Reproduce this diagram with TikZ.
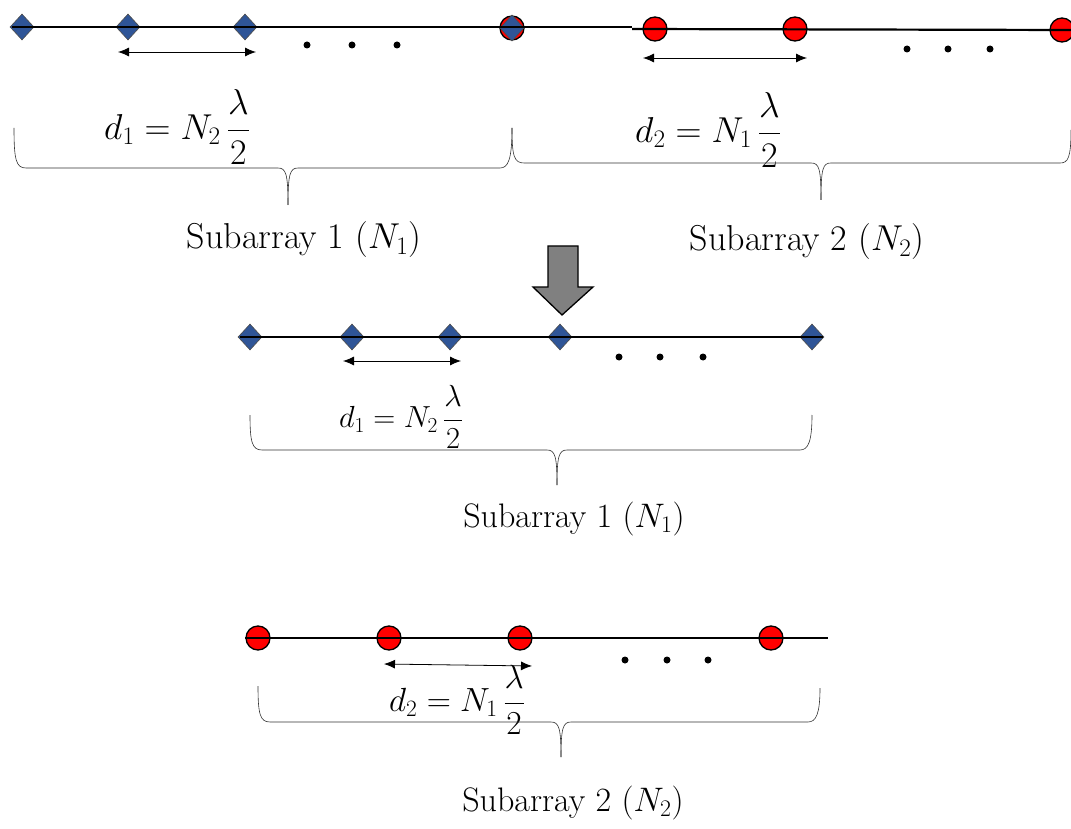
\RequirePackage{fix-cm}
\documentclass[tikz,border=0pt]{standalone}
\usetikzlibrary{arrows.meta,shapes.geometric}
\definecolor{dblue}{RGB}{47,85,151}
\definecolor{bgray}{RGB}{128,128,128}
\begin{document}
\begin{tikzpicture}[x=1pt,y=-1pt,
  elemd/.style={diamond,draw=black!70,line width=0.6pt,fill=dblue,minimum width=24pt,minimum height=26pt,inner sep=0pt},
  elemc/.style={circle,draw=black,line width=1.3pt,fill=red,minimum size=24pt,inner sep=0pt},
  arr/.style={line width=0.8pt,{Latex[length=11pt,width=9pt]}-{Latex[length=11pt,width=9pt]}},
  axis/.style={line width=2.2pt},
  brace/.style={line width=0.6pt,black!80},
  dotc/.style={circle,fill=black,minimum size=7pt,inner sep=0pt},
  lbl/.style={font=\fontsize{36}{40}\selectfont},
  lblm/.style={font=\fontsize{34}{38}\selectfont},
  frm/.style={font=\fontsize{36}{40}\selectfont},
  frmb/.style={font=\fontsize{33.5}{37}\selectfont},
  frmm/.style={font=\fontsize{30.5}{34}\selectfont}]
\useasboundingbox (0,0) rectangle (1071,829);
% ---------- top row ----------
\node[elemc] (tc0) at (512,28) {};
\node[elemd] (t1) at (22,27) {};
\node[elemd] (t2) at (128,27) {};
\node[elemd] (t3) at (245,27) {};
\node[elemd] (t4) at (512,28) {};
\node[elemc] (tc1) at (655,29) {};
\node[elemc] (tc2) at (795,29) {};
\node[elemc] (tc3) at (1062,30) {};
\coordinate (tl0) at (12,27);
\coordinate (tl1) at (632,27);
\coordinate (tl2) at (632,29);
\coordinate (tl3) at (1071,30);
\draw[axis] (tl0) -- (tl1);
\draw[axis] (tl2) -- (tl3);
\coordinate (ta1) at (118,52); \coordinate (ta2) at (256,52);
\draw[arr] (ta1) -- (ta2);
\coordinate (ta3) at (643,58); \coordinate (ta4) at (807,58);
\draw[arr] (ta3) -- (ta4);
\node[dotc] (td1) at (307,45) {}; \node[dotc] (td2) at (352,45) {}; \node[dotc] (td3) at (397,45) {};
\node[dotc] (td4) at (907,49) {}; \node[dotc] (td5) at (948,49) {}; \node[dotc] (td6) at (990,49) {};
\node[frm] (f1) at (177,127) {$\displaystyle d_1 = N_2\,\frac{\lambda}{2}$};
\node[frm] (f2) at (708,130) {$\displaystyle d_2 = N_1\,\frac{\lambda}{2}$};
\draw[brace] (14,128) .. controls (14,160) and (16,168) .. (26,168) -- (278,168)
  .. controls (286,168) and (288,174) .. (288,205);
\draw[brace] (288,205) .. controls (288,174) and (290,168) .. (298,168) -- (500,168)
  .. controls (508,168) and (512,160) .. (512,128);
\draw[brace] (512,128) .. controls (512,156) and (514,163) .. (524,163) -- (811,163)
  .. controls (819,163) and (821,168) .. (821,200);
\draw[brace] (821,200) .. controls (821,168) and (823,163) .. (831,163) -- (1060,163)
  .. controls (1068,163) and (1071,158) .. (1071,130);
\node[lbl] (s1) at (304,240) {Subarray 1 ($N_1$)};
\node[lbl] (s2) at (807,242) {Subarray 2 ($N_2$)};
% ---------- block arrow ----------
\draw[fill=bgray,line width=1.3pt,line join=miter] (548,246) -- (578,246) -- (578,287) -- (593,287)
  -- (562,315) -- (533,287) -- (548,287) -- cycle;
% ---------- middle row ----------
\node[elemd] (m1) at (250,337) {};
\node[elemd] (m2) at (352,337) {};
\node[elemd] (m3) at (450,337) {};
\node[elemd] (m4) at (560,337) {};
\node[elemd] (m5) at (812,337) {};
\coordinate (ml0) at (240,337); \coordinate (ml1) at (823,337);
\draw[axis] (ml0) -- (ml1);
\coordinate (ma1) at (343,361); \coordinate (ma2) at (461,361);
\draw[arr] (ma1) -- (ma2);
\node[dotc] (md1) at (619,357) {}; \node[dotc] (md2) at (660,357) {}; \node[dotc] (md3) at (703,357) {};
\node[frmm] (f3) at (401,417) {$\displaystyle d_1 = N_2\,\frac{\lambda}{2}$};
\draw[brace] (250,415) .. controls (250,442) and (252,450) .. (262,450) -- (547,450)
  .. controls (555,450) and (557,456) .. (557,485);
\draw[brace] (557,485) .. controls (557,456) and (559,450) .. (567,450) -- (800,450)
  .. controls (808,450) and (812,442) .. (812,415);
\node[lblm] (s3) at (574,519) {Subarray 1 ($N_1$)};
% ---------- bottom row ----------
\node[elemc] (b1) at (258,638) {};
\node[elemc] (b2) at (389,638) {};
\node[elemc] (b3) at (520,638) {};
\node[elemc] (b4) at (771,638) {};
\coordinate (bl0) at (245,638); \coordinate (bl1) at (828,638);
\draw[axis] (bl0) -- (bl1);
\coordinate (ba1) at (384,664); \coordinate (ba2) at (532,666);
\draw[arr] (ba1) -- (ba2);
\node[dotc] (bd1) at (625,660) {}; \node[dotc] (bd2) at (667,660) {}; \node[dotc] (bd3) at (708,660) {};
\node[frmb] (f4) at (457,700) {$\displaystyle d_2 = N_1\,\frac{\lambda}{2}$};
\draw[brace] (258,686) .. controls (258,714) and (260,722) .. (270,722) -- (551,722)
  .. controls (559,722) and (561,728) .. (561,757);
\draw[brace] (561,757) .. controls (561,728) and (563,722) .. (571,722) -- (808,722)
  .. controls (816,722) and (820,714) .. (820,688);
\node[lblm] (s4) at (573,803) {Subarray 2 ($N_2$)};
\end{tikzpicture}
\end{document}
